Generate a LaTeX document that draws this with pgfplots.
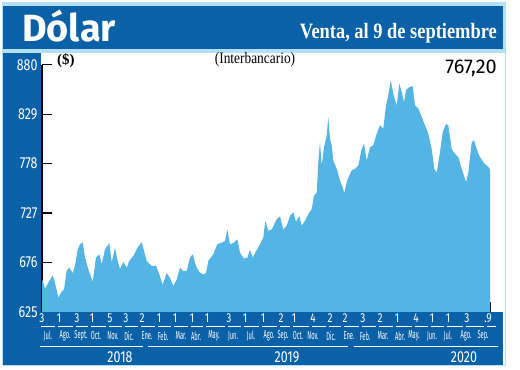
\documentclass[border=0pt]{standalone}
\usepackage{pgfplots}
\pgfplotsset{compat=1.18}
\usepackage{fontspec}
\setmainfont{Liberation Serif}
\newfontfamily\cond[FakeStretch=0.78]{Fira Sans}
\newfontfamily\condx[FakeStretch=0.5]{Fira Sans}
\newfontfamily\condserif[FakeStretch=0.84]{Liberation Serif}
\newfontfamily\titlefont{Fira Sans}
\definecolor{darkblue}{RGB}{11,97,168}
\definecolor{areablue}{RGB}{84,180,228}
\definecolor{lightblue}{RGB}{178,224,246}
\begin{document}
\begin{tikzpicture}[x=1bp,y=1bp]
% background
\fill[white] (0,0) rectangle (520,369);
\fill[lightblue] (2,3) rectangle (506,367);
\fill[white] (3,4) rectangle (505,316);
\fill[darkblue] (3,320) rectangle (503,363);
\fill[darkblue] (3,4) rectangle (41,316);
\fill[darkblue] (3,4) rectangle (503,57);
\begin{axis}[
  at={(42,59)}, anchor=south west,
  scale only axis, width=448bp, height=247bp,
  xmin=42, xmax=490, ymin=625, ymax=880,
  axis x line*=bottom, axis y line*=left,
  axis line style={black, line width=1.2pt, -},
  xtick={490}, xticklabels={},
  ytick={625,676,727,778,829,880},
  tick align=inside, major tick length=10bp,
  tick style={black, line width=1.2pt},
  /pgf/number format/assume math mode=true,
  yticklabel style={text=white, font=\cond\fontsize{16}{16}\selectfont, anchor=east, xshift=-1bp},
  clip=false,
]
\addplot[fill=areablue, draw=none] coordinates {
(42,658)(42.7,657)(45,649)(48.3,655)(52.7,662.6)(55,655)(58.3,639.5)(61.7,646)(64,648)(66.7,667.5)(69.3,670.6)(72.7,665)(75,672.7)(77.7,689.6)(80,694.8)(82.7,696.5)(85,681)(88.3,669)(92.7,656)(96,681)(99.3,684.4)(101.7,674)(105,689.6)(109.3,696)(111.7,676)(115,691)(117.3,679)(120,669)(123.3,676.5)(126.7,670.6)(129.3,677.5)(133.3,682.7)(137.3,691)(141.7,697)(144,688)(146.7,677.5)(151.7,672.4)(156,672.7)(159.3,663.7)(162.7,653)(166.7,665)(170,660)(173.3,651.6)(176.7,658.5)(180,670.6)(183.3,667)(186.7,667.5)(190,681)(192.7,684.4)(196,672.4)(199.3,666)(203.3,663.7)(206,665)(208.3,677.5)(213.3,684.4)(217.3,694.8)(221.7,696.5)(225,698)(227.3,710)(230,694.8)(234,696.5)(237.3,700)(240,686)(244,680)(247.3,681)(250,689)(252.7,681)(256.7,689)(260,694.8)(263.3,701.7)(265.3,719)(268.3,708.7)(271.7,710)(276.7,720.7)(280,723.5)(283.3,710)(286.7,714)(290,724)(293.3,728)(296,718)(299.3,724)(301.7,714)(305,719)(308.3,726)(311.7,731)(314,745)(316.7,748)(318.3,779.5)(320,800)(321.7,776)(324,795)(326.7,807)(328.3,826)(330,803.7)(331.7,797)(333.3,781)(336.7,772.6)(340,760.5)(342.7,753.6)(344.3,747.7)(346.7,759)(349.3,765.7)(351.7,771)(355,772.6)(358.3,776)(361.7,793)(364,798.5)(366.7,781)(370,795)(373.3,797)(376.7,809)(380,817.6)(383.3,814)(386,838)(388.3,848.7)(390.7,864)(393.3,850)(396.7,838)(399.3,860.7)(401.7,852)(404,841.7)(406,854)(409.3,857)(412.7,858)(415,838)(418.3,835)(421.7,826)(425,817.6)(428.3,809)(431.7,793)(434.3,772.6)(436.7,769)(440,790)(442.7,810.6)(446,819)(448.3,817.6)(451.7,793)(455,788)(458.3,784.7)(461.7,772.6)(466,759)(468.3,769)(471.7,800)(474,802)(476.7,793)(479.3,786)(483.3,779.5)(486.7,776)(489,774)(490,771)
} \closedcycle;
\end{axis}
% titles
\node[anchor=base west, text=white, inner sep=0, font=\titlefont\bfseries\fontsize{38}{38}\selectfont] at (22,328) {Dólar};
\node[anchor=base east, text=white, inner sep=0, font=\condserif\bfseries\fontsize{22}{22}\selectfont] at (497,331) {Venta, al 9 de septiembre};
\node[anchor=west, inner sep=0, font=\bfseries\fontsize{15}{15}\selectfont] at (57,308) {(\$)};
\node[inner sep=0, font=\condserif\fontsize{16}{16}\selectfont] at (255,309) {(Interbancario)};
\node[anchor=east, inner sep=0, font=\titlefont\fontsize{20}{20}\selectfont] at (497,301) {767,20};
% x labels
\foreach \p/\n in {42/3, 59/1, 77/3, 92/1, 110/5, 126/3, 142/2, 159/1, 175/1, 192/1, 207/1, 229/3, 245/1, 263/1, 281/2, 294/1, 313/4, 330/2, 345/2, 363/3, 380/2, 397/1, 416/4, 432/1, 448/1, 467/3, 488/.9}
  \node[text=white, inner sep=0, font=\cond\fontsize{13}{13}\selectfont] at (\p,51) {\n};
\foreach \a/\b in {42/59, 59/77, 77/92, 92/110, 110/126, 126/142, 142/159, 159/175, 175/192, 192/207, 207/229, 229/245, 245/263, 263/281, 281/294, 294/313, 313/330, 330/345, 345/363, 363/380, 380/397, 397/416, 416/432, 432/448, 448/467, 467/488, 488/500}
  \draw[white, line width=0.6pt] (\a-1,43) -- (\b-4,43);
\foreach \p/\m in {48/Jul., 65/Ago., 81/Sept., 96/Oct., 113/Nov., 129/Dic., 147/Ene., 163/Feb., 181/Mar., 196/Abr., 214/May., 233/Jun., 251/Jul., 269/Ago., 283/Sep., 298/Oct., 313/Nov., 331/Dic., 349/Ene., 365/Feb., 383/Mar., 400/Abr., 414/May., 432/Jun., 448/Jul., 466/Ago., 483/Sep.}
  \node[text=white, inner sep=0, font=\condx\fontsize{11.5}{11.5}\selectfont] at (\p,33) {\m};
\draw[white, line width=0.7pt] (40,23) -- (143,23);
\draw[white, line width=0.7pt] (148,23) -- (348,23);
\draw[white, line width=0.7pt] (354,23) -- (498,23);
\node[text=white, inner sep=0, font=\cond\fontsize{16}{16}\selectfont] at (120,12) {2018};
\node[text=white, inner sep=0, font=\cond\fontsize{16}{16}\selectfont] at (287,12) {2019};
\node[text=white, inner sep=0, font=\cond\fontsize{16}{16}\selectfont] at (464,12) {2020};
\end{tikzpicture}
\end{document}
